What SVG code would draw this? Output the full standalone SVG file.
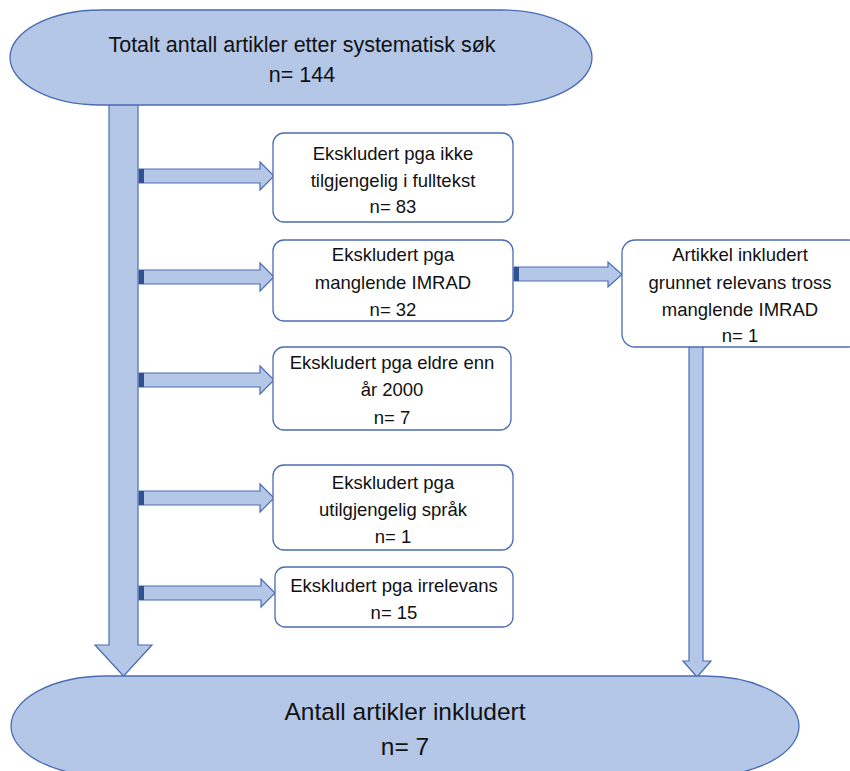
<svg xmlns="http://www.w3.org/2000/svg" width="850" height="771" viewBox="0 0 850 771">
<style>
.term{fill:#b4c7e7;stroke:#4a6cb3;stroke-width:1.3}
.box{fill:#ffffff;stroke:#4a6cb3;stroke-width:1.3}
.arr{fill:#b4c7e7;stroke:#4a6cb3;stroke-width:1.2;stroke-linejoin:miter}
.dk{fill:#2f528f}
text{font-family:"Liberation Sans",Arial,sans-serif;fill:#111;text-anchor:middle}
.t1{font-size:21.5px}
.t2{font-size:18.5px}
.t3{font-size:24.5px}
</style>
<rect width="850" height="771" fill="#ffffff"/>
<g id="connectors">
  <polygon class="arr" points="109,104 138,104 138,645 152,645 123.5,676 95,645 109,645"/>
  <polygon class="arr" points="689,346 703,346 703,661 711,661 697,677 683,661 689,661"/>
  <polygon class="arr" points="139,169 260,169 260,162 274,176 260,190 260,183 139,183"/>
  <rect class="dk" x="139" y="169" width="5" height="14"/>
  <polygon class="arr" points="139,270 260,270 260,263 274,277 260,291 260,284 139,284"/>
  <rect class="dk" x="139" y="270" width="5" height="14"/>
  <polygon class="arr" points="139,373 260,373 260,366 274,380 260,394 260,387 139,387"/>
  <rect class="dk" x="139" y="373" width="5" height="14"/>
  <polygon class="arr" points="139,491 260,491 260,484 274,498 260,512 260,505 139,505"/>
  <rect class="dk" x="139" y="491" width="5" height="14"/>
  <polygon class="arr" points="139,586 261,586 261,579 275,593 261,607 261,600 139,600"/>
  <rect class="dk" x="139" y="586" width="5" height="14"/>
  <polygon class="arr" points="514,267 608,267 608,262 622,274.5 608,287 608,281 514,281"/>
  <rect class="dk" x="514" y="267" width="5" height="14"/>
</g>
<g id="start">
  <path class="term" d="M101 10 H501 A91 47.5 0 0 1 501 105 H101 A91 47.5 0 0 1 101 10 Z"/>
  <text class="t1" x="302" y="52">Totalt antall artikler etter systematisk søk</text>
  <text class="t1" x="302" y="82">n= 144</text>
</g>
<g id="ex1">
  <rect class="box" x="273" y="133" width="240" height="89" rx="11"/>
  <text class="t2" x="393" y="160">Ekskludert pga ikke</text>
  <text class="t2" x="393" y="187">tilgjengelig i fulltekst</text>
  <text class="t2" x="393" y="213">n= 83</text>
</g>
<g id="ex2">
  <rect class="box" x="273" y="240" width="240" height="81" rx="11"/>
  <text class="t2" x="393" y="261">Ekskludert pga</text>
  <text class="t2" x="393" y="289">manglende IMRAD</text>
  <text class="t2" x="393" y="316">n= 32</text>
</g>
<g id="ex3">
  <rect class="box" x="273" y="347" width="238" height="83" rx="11"/>
  <text class="t2" x="392" y="369">Ekskludert pga eldre enn</text>
  <text class="t2" x="392" y="396">år 2000</text>
  <text class="t2" x="392" y="424">n= 7</text>
</g>
<g id="ex4">
  <rect class="box" x="273" y="465" width="240" height="85" rx="11"/>
  <text class="t2" x="393" y="489">Ekskludert pga</text>
  <text class="t2" x="393" y="516">utilgjengelig språk</text>
  <text class="t2" x="393" y="543">n= 1</text>
</g>
<g id="ex5">
  <rect class="box" x="275" y="567" width="238" height="60" rx="10"/>
  <text class="t2" x="394" y="592">Ekskludert pga irrelevans</text>
  <text class="t2" x="394" y="619">n= 15</text>
</g>
<g id="incl">
  <rect class="box" x="622" y="240" width="240" height="107" rx="13"/>
  <text class="t2" x="740" y="261">Artikkel inkludert</text>
  <text class="t2" x="740" y="289">grunnet relevans tross</text>
  <text class="t2" x="740" y="316">manglende IMRAD</text>
  <text class="t2" x="740" y="342">n= 1</text>
</g>
<g id="end">
  <path class="term" d="M106 676 H704 A95 50 0 0 1 704 776 H106 A95 50 0 0 1 106 676 Z"/>
  <text class="t3" x="405" y="720">Antall artikler inkludert</text>
  <text class="t3" x="405" y="755">n= 7</text>
</g>
</svg>
